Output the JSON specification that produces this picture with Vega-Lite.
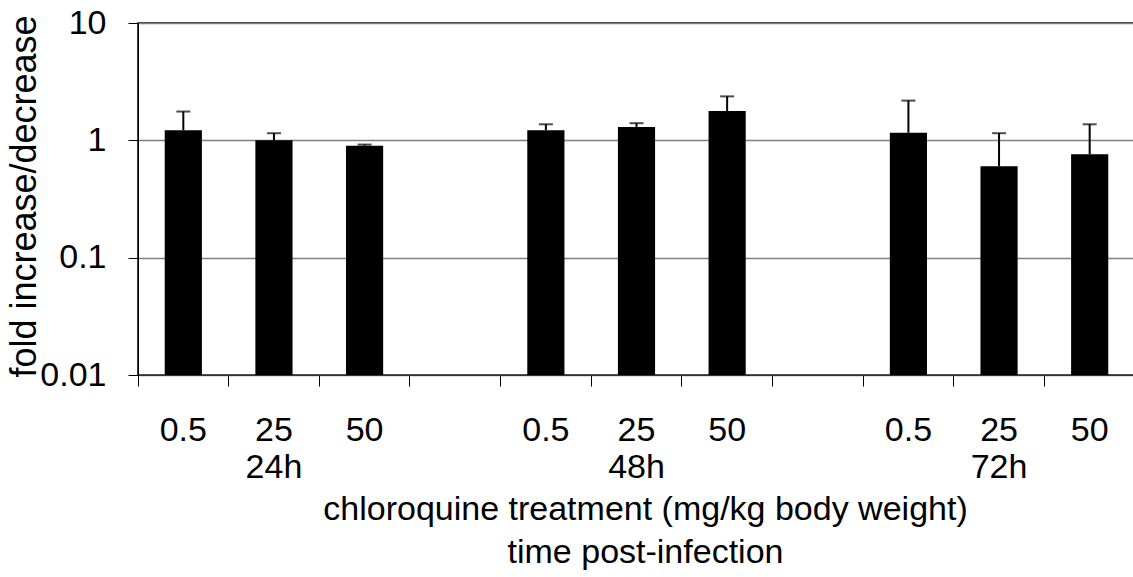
{
  "$schema": "https://vega.github.io/schema/vega-lite/v6.json",
  "width": 997,
  "height": 352,
  "autosize": {"type": "none"},
  "padding": {"left": 138, "top": 23, "right": 0, "bottom": 202},
  "background": "white",
  "config": {"view": {"stroke": "black", "strokeWidth": 1.5}, "font": "Liberation Sans"},
  "data": {"values": [
    {"slot": "24h|0.5", "time": "24h", "dose": "0.5", "value": 1.22, "upper": 1.76},
    {"slot": "24h|25", "time": "24h", "dose": "25", "value": 1.0, "upper": 1.15},
    {"slot": "24h|50", "time": "24h", "dose": "50", "value": 0.9, "upper": 0.92},
    {"slot": "48h|0.5", "time": "48h", "dose": "0.5", "value": 1.22, "upper": 1.37},
    {"slot": "48h|25", "time": "48h", "dose": "25", "value": 1.3, "upper": 1.4},
    {"slot": "48h|50", "time": "48h", "dose": "50", "value": 1.78, "upper": 2.37},
    {"slot": "72h|0.5", "time": "72h", "dose": "0.5", "value": 1.16, "upper": 2.18},
    {"slot": "72h|25", "time": "72h", "dose": "25", "value": 0.6, "upper": 1.15},
    {"slot": "72h|50", "time": "72h", "dose": "50", "value": 0.76, "upper": 1.37}
  ]},
  "encoding": {
    "x": {
      "field": "slot",
      "type": "nominal",
      "sort": null,
      "scale": {
        "domain": ["24h|0.5", "24h|25", "24h|50", "gap1", "48h|0.5", "48h|25", "48h|50", "gap2", "72h|0.5", "72h|25", "72h|50"],
        "paddingInner": 0,
        "paddingOuter": 0
      },
      "axis": {
        "title": ["chloroquine treatment (mg/kg body weight)", "time post-infection"],
        "bandPosition": 0,
        "tickSize": 11,
        "tickColor": "black",
        "domainColor": "#333333",
        "labelAngle": 0,
        "labelAlign": "center",
        "labelBaseline": "top",
        "labelPadding": 27,
        "labelFontSize": 34,
        "labelLineHeight": 37,
        "labelColor": "black",
        "labelOverlap": false,
        "labelFlush": false,
        "labelExpr": "indexof(datum.value,'|') < 0 ? '' : (split(datum.value,'|')[1] == '25' ? [split(datum.value,'|')[1], split(datum.value,'|')[0]] : split(datum.value,'|')[1])",
        "titleFontSize": 34,
        "titleFontWeight": "normal",
        "titleColor": "black",
        "titleX": 507,
        "titleY": 117,
        "titleAlign": "center",
        "titleBaseline": "top",
        "titleLineHeight": 43
      }
    }
  },
  "layer": [
    {
      "mark": {"type": "bar", "color": "black", "width": {"band": 0.41}},
      "encoding": {
        "y": {
          "field": "value",
          "type": "quantitative",
          "scale": {"type": "log", "domain": [0.01, 10]},
          "axis": {
            "values": [0.01, 0.1, 1, 10],
            "format": "~g",
            "title": "fold increase/decrease",
            "grid": true,
            "gridColor": "#808080",
            "gridWidth": 1.5,
            "tickSize": 10,
            "tickColor": "black",
            "domainColor": "black",
            "labelFontSize": 34,
            "labelPadding": 22,
            "labelColor": "black",
            "titleFontSize": 36,
            "titleFontWeight": "normal",
            "titleColor": "black",
            "titleX": -103,
            "titleY": 173,
            "titleAngle": 270,
            "titleAlign": "center",
            "titleBaseline": "alphabetic"
          }
        },
        "y2": {"datum": 0.01}
      }
    },
    {
      "mark": {"type": "rule", "strokeWidth": 2, "color": "black"},
      "encoding": {
        "y": {"field": "value", "type": "quantitative"},
        "y2": {"field": "upper"}
      }
    },
    {
      "mark": {"type": "tick", "thickness": 2, "size": 14, "color": "black"},
      "encoding": {
        "y": {"field": "upper", "type": "quantitative"}
      }
    }
  ]
}
